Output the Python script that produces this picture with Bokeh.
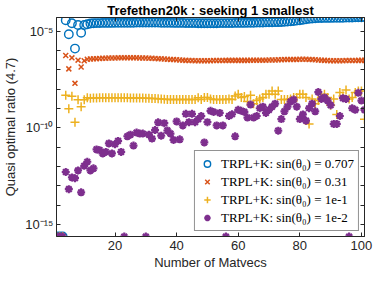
from bokeh.plotting import figure
from bokeh.models import (Range1d, FixedTicker, CustomJSTickFormatter, LogAxis,
                          LinearAxis, Legend, LegendItem)
from bokeh.embed import file_html
from bokeh.resources import INLINE

# ---------------- data (log10 of the quasi optimal ratio) ----------------
matvecs = list(range(1, 102))
floor_exp = -15.63  # zero values drawn on the bottom edge

exp_0707 = [-15.63, -15.63, -15.63,
            -4.43, -5.16, -4.59, -5.90, -4.68, -5.08, -4.68, -4.64,
            -4.60, -4.59, -4.58, -4.58, -4.57, -4.57, -4.57, -4.57, -4.56, -4.56,
            -4.56, -4.56, -4.56, -4.56, -4.56, -4.55, -4.55, -4.55, -4.55, -4.55,
            -4.55, -4.55, -4.55, -4.56, -4.56, -4.56, -4.56, -4.57, -4.57,
            -4.57, -4.57, -4.58, -4.58, -4.58, -4.58, -4.59, -4.59, -4.59, -4.59,
            -4.59, -4.59, -4.59, -4.58, -4.58, -4.58, -4.58, -4.58, -4.57, -4.57,
            -4.57, -4.57, -4.56, -4.56, -4.56, -4.55, -4.55, -4.55, -4.54, -4.54,
            -4.54, -4.53, -4.53, -4.52, -4.51, -4.50, -4.49, -4.47, -4.45, -4.43,
            -4.41, -4.38, -4.36, -4.34, -4.33, -4.32, -4.32, -4.31, -4.31, -4.31,
            -4.30, -4.30, -4.30, -4.30, -4.29, -4.29, -4.29, -4.28, -4.28, -4.28, -4.27]

exp_031 = [-15.63, -15.63, -15.63,
           -6.26, -6.95, -6.38, -7.70, -6.50, -6.85, -6.53, -6.45,
           -6.44, -6.43, -6.42, -6.41, -6.40, -6.40, -6.39, -6.39, -6.39, -6.38,
           -6.38, -6.38, -6.38, -6.38, -6.38, -6.38, -6.39, -6.39, -6.39, -6.40,
           -6.40, -6.41, -6.42, -6.43, -6.44, -6.45, -6.46, -6.47, -6.48,
           -6.49, -6.50, -6.51, -6.52, -6.52, -6.53, -6.53, -6.53, -6.53, -6.53,
           -6.53, -6.52, -6.52, -6.52, -6.52, -6.51, -6.51, -6.51, -6.51, -6.51,
           -6.51, -6.51, -6.51, -6.50, -6.50, -6.50, -6.50, -6.50, -6.50, -6.49,
           -6.49, -6.49, -6.48, -6.48, -6.47, -6.47, -6.46, -6.46, -6.46, -6.45,
           -6.45, -6.45, -6.46, -6.47, -6.48, -6.49, -6.50, -6.51, -6.52, -6.53,
           -6.53, -6.53, -6.53, -6.53, -6.52, -6.52, -6.52, -6.52, -6.51, -6.51, -6.51]

exp_1em1 = [-15.63, -15.63, -15.63,
            -8.31, -9.02, -8.37, -9.72, -8.55, -8.91, -8.55, -8.45,
            -8.47, -8.46, -8.46, -8.45, -8.45, -8.45, -8.45, -8.45, -8.45, -8.45,
            -8.45, -8.45, -8.45, -8.46, -8.46, -8.46, -8.46, -8.46, -8.47, -8.47,
            -8.48, -8.49, -8.50, -8.51, -8.52, -8.53, -8.54, -8.54, -8.54,
            -8.54, -8.54, -8.54, -8.54, -8.54, -8.54, -8.45, -8.54, -8.43, -8.43,
            -8.51, -8.54, -8.54, -8.54, -8.54, -8.54, -8.51, -8.54, -8.35, -8.27,
            -8.43, -8.38, -8.64, -8.32, -8.75, -8.59, -8.51, -8.43, -8.27, -8.27,
            -8.10, -8.27, -8.10, -8.54, -8.54, -8.54, -8.51, -8.43, -8.43, -8.27,
            -8.27, -8.43, -9.80, -8.51, -8.75, -8.59, -8.43, -8.27, -8.43, -8.83,
            -8.51, -9.31, -8.18, -8.35, -8.05, -8.51, -8.43, -8.18, -8.10, -8.10, -9.56]

exp_1em2 = [-15.63, -15.63, -15.63,
            -12.29, -13.18, -12.57, -12.61, -12.21, -13.34, -11.97, -11.76,
            -12.21, -12.10, -11.12, -11.16, -11.33, -11.25, -10.81, -11.33, -10.85, -10.68,
            -11.25, -15.63, -10.44, -10.36, -10.92, -10.25, -10.30, -10.30, -15.63, -10.36,
            -10.56, -10.12, -9.72, -10.41, -9.76, -10.14, -10.30, -10.63, -9.67,
            -10.60, -9.88, -9.28, -9.71, -9.28, -9.71, -9.55, -9.39, -10.76, -9.71,
            -9.12, -9.18, -9.88, -9.23, -9.88, -15.63, -9.39, -9.30, -10.44, -9.07,
            -9.12, -9.18, -9.47, -8.80, -9.47, -9.39, -8.99, -8.91, -9.23, -9.07,
            -8.91, -8.75, -10.15, -9.55, -9.15, -8.91, -8.64, -8.54, -8.91, -9.55,
            -9.31, -9.63, -8.99, -8.75, -9.15, -8.15, -8.51, -8.43, -8.59, -8.83,
            -9.80, -9.80, -9.39, -8.47, -8.51, -15.63, -8.99, -9.07, -8.19, -8.59, -9.07]

labels = ["TRPL+K: sin(\u03b8\u2080) = 0.707", "TRPL+K: sin(\u03b8\u2080) = 0.31",
          "TRPL+K: sin(\u03b8\u2080) = 1e-1", "TRPL+K: sin(\u03b8\u2080) = 1e-2"]
y_decades = [-15, -14, -13, -12, -11, -10, -9, -8, -7, -6, -5]
x_ticks = [20, 40, 60, 80, 100]

def vals(exps):
    return [10.0 ** e for e in exps]

# ---------------- figure ----------------
AX = "#262626"
p = figure(width=374, height=272, y_axis_type="log",
           x_range=Range1d(1, 101), y_range=Range1d(10.0 ** floor_exp, 10.0 ** -4.29),
           output_backend="svg", toolbar_location=None,
           min_border_left=4, min_border_right=10, min_border_top=0, min_border_bottom=0)
p.background_fill_color = "white"
p.border_fill_color = "white"
p.outline_line_color = AX
p.outline_line_width = 1
p.xgrid.visible = False
p.ygrid.visible = False

p.title.text = "Trefethen20k : seeking 1 smallest"
p.title.align = "center"
p.title.text_font = "Liberation Sans"
p.title.text_font_style = "bold"
p.title.text_font_size = "13px"
p.title.text_color = "black"
p.title.offset = 0
p.title.standoff = 0

yticker = FixedTicker(ticks=[10.0 ** k for k in y_decades], minor_ticks=[])
xticker = FixedTicker(ticks=x_ticks, minor_ticks=[])

ylab = CustomJSTickFormatter(code="""
const e = Math.round(Math.log10(tick));
if (e % 5 != 0) return "";
const sup = {"-":"\u207b","0":"\u2070","1":"\u00b9","2":"\u00b2","3":"\u00b3","4":"\u2074",
             "5":"\u2075","6":"\u2076","7":"\u2077","8":"\u2078","9":"\u2079"};
return "10" + String(e).split("").map(c => sup[c]).join("");
""")
blank = CustomJSTickFormatter(code="return '';")

def style_axis(ax):
    ax.axis_line_color = AX
    ax.major_tick_line_color = AX
    ax.major_tick_in = 4
    ax.major_tick_out = 0
    ax.minor_tick_in = 0
    ax.minor_tick_out = 0
    ax.major_label_text_color = AX
    ax.major_label_text_font = "Liberation Sans"
    ax.major_label_text_font_size = "13px"
    ax.axis_label_text_color = AX
    ax.axis_label_text_font = "Liberation Sans"
    ax.axis_label_text_font_size = "13px"
    ax.axis_label_text_font_style = "normal"

xa = p.xaxis[0]
xa.ticker = xticker
xa.axis_label = "Number of Matvecs"
xa.major_label_standoff = 4
xa.axis_label_standoff = 2
style_axis(xa)

ya = p.yaxis[0]
ya.ticker = yticker
ya.formatter = ylab
ya.axis_label = "Quasi optimal ratio (4.7)"
ya.major_label_standoff = 3
ya.axis_label_standoff = 4
style_axis(ya)

ra = LogAxis(ticker=yticker, formatter=blank, major_label_standoff=0)
style_axis(ra)
p.add_layout(ra, "right")
ta = LinearAxis(ticker=xticker, formatter=blank, major_label_standoff=0)
style_axis(ta)
p.add_layout(ta, "above")

r1 = p.scatter(matvecs, vals(exp_0707), marker="circle", size=8.5, fill_color=None,
               line_color="#0072BD", line_width=1.4)
r2 = p.scatter(matvecs, vals(exp_031), marker="x", size=7,
               line_color="#D95319", line_width=1.5)
r3 = p.scatter(matvecs, vals(exp_1em1), marker="cross", size=9,
               line_color="#EDB120", line_width=1.5)
r4 = p.scatter(matvecs, vals(exp_1em2), marker="asterisk", size=8,
               line_color="#7E2F8E", line_width=2.2)

legend = Legend(items=[LegendItem(label=labels[0], renderers=[r1]),
                       LegendItem(label=labels[1], renderers=[r2]),
                       LegendItem(label=labels[2], renderers=[r3]),
                       LegendItem(label=labels[3], renderers=[r4])],
                location="bottom_right")
legend.label_text_font = "Liberation Serif"
legend.label_text_font_size = "13px"
legend.label_text_color = "black"
legend.border_line_color = AX
legend.border_line_width = 0.6
legend.background_fill_color = "white"
legend.background_fill_alpha = 1
legend.margin = 5
legend.padding = 4
legend.spacing = 1
legend.glyph_width = 16
legend.glyph_height = 17
legend.label_height = 17
legend.label_standoff = 6
p.add_layout(legend)

open("out.html", "w").write(file_html(p, INLINE))
